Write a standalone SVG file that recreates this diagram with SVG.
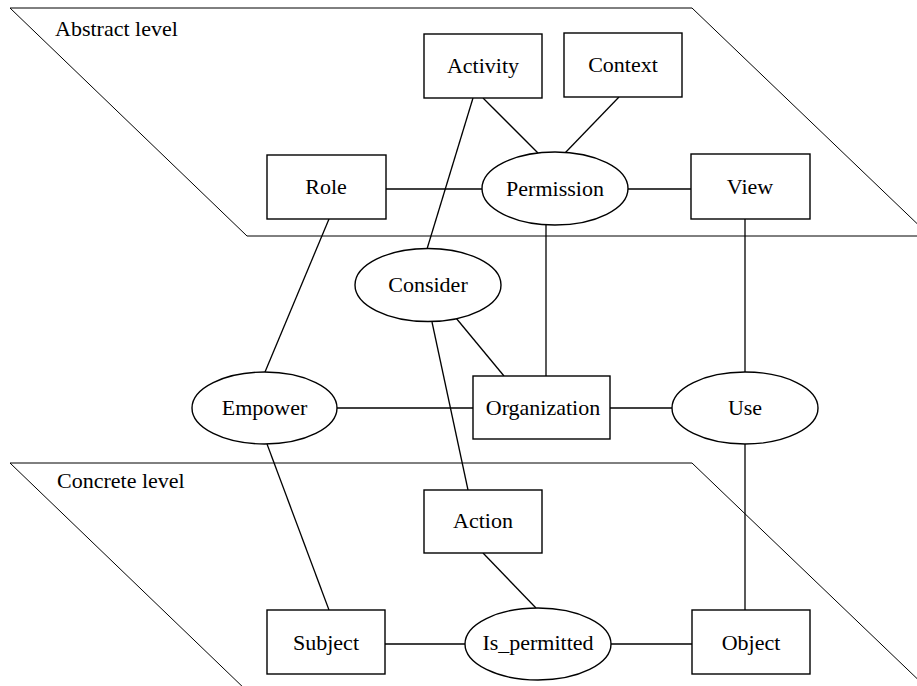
<svg xmlns="http://www.w3.org/2000/svg" width="917" height="686" viewBox="0 0 917 686">
<style>
.lvl{fill:none;stroke:#000;stroke-width:1}
.n{fill:#fff;stroke:#000;stroke-width:1.4}
.c line{stroke:#000;stroke-width:1.3}
text{font-family:"Liberation Serif","Times New Roman",serif;font-size:22px;fill:#000}
.m{text-anchor:middle}
</style>
<rect width="917" height="686" fill="#fff"/>
<g id="abstract-level">
<polygon class="lvl" points="10,8 692,8 930,236 247,236"/>
<text x="55" y="36">Abstract level</text>
</g>
<g id="concrete-level">
<polygon class="lvl" points="10,463 692,463 930,691 247,691"/>
<text x="57" y="488">Concrete level</text>
</g>
<g class="c" id="connectors">
<line x1="386" y1="189" x2="482" y2="189"/>
<line x1="628" y1="189" x2="691" y2="189"/>
<line x1="483" y1="98" x2="538" y2="153"/>
<line x1="619" y1="97" x2="565" y2="153"/>
<line x1="473" y1="98" x2="427" y2="249"/>
<line x1="546" y1="225" x2="546" y2="376"/>
<line x1="745" y1="219" x2="745" y2="372"/>
<line x1="329" y1="219" x2="265" y2="372"/>
<line x1="456" y1="318" x2="504" y2="376"/>
<line x1="432" y1="322" x2="468" y2="490"/>
<line x1="337" y1="408" x2="473" y2="408"/>
<line x1="610" y1="408" x2="672" y2="408"/>
<line x1="267" y1="444" x2="329" y2="610"/>
<line x1="745" y1="444" x2="745" y2="610"/>
<line x1="483" y1="553" x2="536" y2="608"/>
<line x1="385" y1="644" x2="465" y2="644"/>
<line x1="611" y1="644" x2="692" y2="644"/>
</g>
<g id="activity"><rect class="n" x="424" y="34" width="118" height="64"/><text class="m" x="483" y="73">Activity</text></g>
<g id="context"><rect class="n" x="564" y="33" width="118" height="64"/><text class="m" x="623" y="72">Context</text></g>
<g id="role"><rect class="n" x="267" y="155" width="119" height="64"/><text class="m" x="326" y="194">Role</text></g>
<g id="permission"><ellipse class="n" cx="555" cy="188.5" rx="73" ry="36.5"/><text class="m" x="555" y="196">Permission</text></g>
<g id="view"><rect class="n" x="691" y="154" width="119" height="65"/><text class="m" x="750" y="194">View</text></g>
<g id="consider"><ellipse class="n" cx="428" cy="285" rx="73" ry="36.5"/><text class="m" x="428" y="292">Consider</text></g>
<g id="empower"><ellipse class="n" cx="264.5" cy="408" rx="72.5" ry="36"/><text class="m" x="264.5" y="415">Empower</text></g>
<g id="organization"><rect class="n" x="473" y="376" width="137" height="63"/><text class="m" x="543" y="415">Organization</text></g>
<g id="use"><ellipse class="n" cx="745" cy="408" rx="73" ry="36"/><text class="m" x="745" y="415">Use</text></g>
<g id="action"><rect class="n" x="424" y="490" width="118" height="63"/><text class="m" x="483" y="528">Action</text></g>
<g id="subject"><rect class="n" x="267" y="610" width="118" height="64"/><text class="m" x="326" y="650">Subject</text></g>
<g id="is_permitted"><ellipse class="n" cx="538" cy="644" rx="73" ry="36"/><text class="m" x="538" y="650">Is_permitted</text></g>
<g id="object"><rect class="n" x="692" y="610" width="118" height="64"/><text class="m" x="751" y="650">Object</text></g>
</svg>
